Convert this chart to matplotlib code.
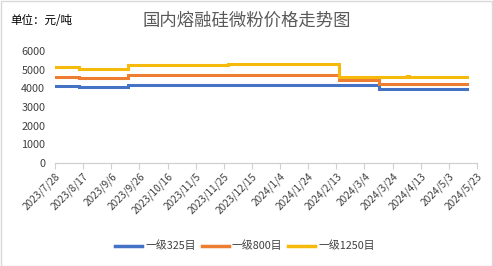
import matplotlib
matplotlib.use("Agg")
import matplotlib.pyplot as plt
import pandas as pd
from matplotlib.patches import Rectangle

plt.rcParams['font.family'] = ['Noto Sans CJK SC', 'DejaVu Sans']

# ---- data (step breakpoints, values in 元/吨) ----
change_dates = ['2023-07-28', '2023-08-14', '2023-09-18', '2023-11-28',
                '2024-02-15', '2024-03-14', '2024-04-03', '2024-04-05', '2024-05-16']
grade325 = [4100, 4050, 4200, 4200, 4200, 3950, 3950, 3950, 3950]
grade800 = [4600, 4550, 4700, 4700, 4450, 4250, 4250, 4250, 4250]
grade1250 = [5150, 5050, 5250, 5300, 4600, 4600, 4650, 4600, 4600]
series_names = ['一级325目', '一级800目', '一级1250目']
series_colors = ['#4472C4', '#ED7D31', '#F5BA0C']

tick_labels = ['2023/7/28', '2023/8/17', '2023/9/6', '2023/9/26', '2023/10/16',
               '2023/11/5', '2023/11/25', '2023/12/15', '2024/1/4', '2024/1/24',
               '2024/2/13', '2024/3/4', '2024/3/24', '2024/4/13', '2024/5/3',
               '2024/5/23']
y_ticks = [0, 1000, 2000, 3000, 4000, 5000, 6000]

title = '国内熔融硅微粉价格走势图'
unit_label = '单位：元/吨'

# ---- figure ----
W, H = 493, 266
fig = plt.figure(figsize=(W / 100, H / 100), dpi=100)
fig.patch.set_facecolor('white')
ax = fig.add_axes([55 / W, 1 - 163 / H, (477 - 55) / W, (163 - 51) / H])

dates = pd.to_datetime(change_dates)
for vals, name, col in zip([grade325, grade800, grade1250], series_names, series_colors):
    ax.plot(dates, vals, drawstyle='steps-post', color=col, lw=2.2, label=name,
            solid_joinstyle='miter')

tick_dates = [pd.Timestamp(t.replace('/', '-')) for t in tick_labels]
ax.set_xlim(tick_dates[0], tick_dates[-1])
ax.set_xticks(tick_dates)
ax.set_xticklabels(tick_labels, rotation=45, ha='right', rotation_mode='anchor',
                   fontsize=7.3, color='#404040')
ax.set_ylim(0, 6000)
ax.set_yticks(y_ticks)
ax.set_yticklabels([str(v) for v in y_ticks], fontsize=7.8, color='#404040')

for s in ['top', 'right', 'left']:
    ax.spines[s].set_visible(False)
ax.spines['bottom'].set_color('#d0d0d0')
ax.spines['bottom'].set_linewidth(0.9)
ax.tick_params(axis='x', direction='out', length=4, color='#d0d0d0', pad=2)
ax.tick_params(axis='y', length=0, pad=7)

fig.text(247 / W, 1 - 21 / H, title, ha='center', va='center', fontsize=12.5,
         color='#595959')
fig.text(10 / W, 1 - 21 / H, unit_label, ha='left', va='center', fontsize=8.3,
         color='black')

leg = fig.legend(loc='center', bbox_to_anchor=(245 / W, 1 - 246 / H), ncol=3,
                 frameon=False, fontsize=7.8, handlelength=2.5, handletextpad=0.3,
                 columnspacing=0.5, labelcolor='#404040')
for line in leg.get_lines():
    line.set_linewidth(2.5)

fig.patches.append(Rectangle((0.5 / W, 0.5 / H), 1 - 1.5 / W, 1 - 1.5 / H,
                             transform=fig.transFigure, fill=False,
                             edgecolor='#d9d9d9', lw=1))

fig.savefig('out.png', dpi=100, facecolor='white')
